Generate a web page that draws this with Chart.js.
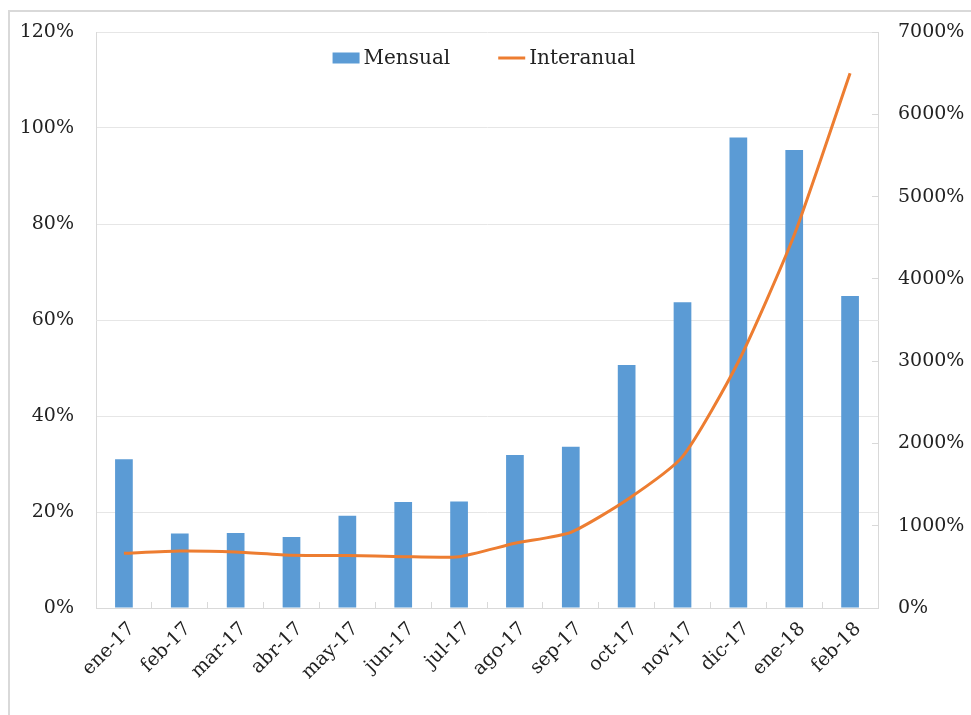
<!DOCTYPE html>
<html>
<head>
<meta charset="utf-8">
<script src="https://cdn.jsdelivr.net/npm/chart.js@4.4.1/dist/chart.umd.min.js"></script>
<style>
  html, body { margin: 0; padding: 0; background: #fff; overflow: hidden; }
  #wrap { position: relative; width: 971px; height: 715px; overflow: hidden; }
  #frame { position: absolute; left: 8px; top: 10px; width: 1000px; height: 800px; border-left: 2px solid #d9d9d9; border-top: 2px solid #d9d9d9; }
  canvas { position: absolute; left: 0; top: 0; }
</style>
</head>
<body>
<div id="wrap">
  <div id="frame"></div>
  <canvas id="chart" width="971" height="715"></canvas>
</div>
<script>
const MONTHS = ['ene-17', 'feb-17', 'mar-17', 'abr-17', 'may-17', 'jun-17', 'jul-17',
	'ago-17', 'sep-17', 'oct-17', 'nov-17', 'dic-17', 'ene-18', 'feb-18'];
// Mensual (%), eje izquierdo
const MENSUAL = [31.0, 15.5, 15.6, 14.8, 19.2, 22.1, 22.2, 31.9, 33.6, 50.6, 63.7, 98.0, 95.4, 65.0];
// Interanual (%), eje derecho
const INTERANUAL = [665, 693, 680, 640, 638, 624, 624, 786, 920, 1312, 1839, 2993, 4533, 6500];

const FONT = '"DejaVu Serif", "Liberation Serif", serif';
const TEXT = '#222222';
const AXIS = '#d9d9d9';

// leyenda dentro del área del gráfico
const inlineLegend = {
	id: 'inlineLegend',
	afterDatasetsDraw(chart) {
		const {ctx, chartArea} = chart;
		const swatch = 27, gap = 4, spacing = 48;
		ctx.save();
		ctx.font = `20px ${FONT}`;
		ctx.textBaseline = 'middle';
		const items = chart.data.datasets.map(ds => ({
			label: ds.label,
			line: ds.type === 'line',
			color: ds.type === 'line' ? ds.borderColor : ds.backgroundColor
		}));
		const widths = items.map(it => swatch + gap + ctx.measureText(it.label).width);
		const total = widths.reduce((a, b) => a + b, 0) + spacing * (items.length - 1);
		let x = (chartArea.left + chartArea.right) / 2 - total / 2 - 3;
		const y = chartArea.top + 26;
		items.forEach((it, i) => {
			if (it.line) {
				ctx.strokeStyle = it.color;
				ctx.lineWidth = 3;
				ctx.beginPath();
				ctx.moveTo(x, y);
				ctx.lineTo(x + swatch, y);
				ctx.stroke();
			} else {
				ctx.fillStyle = it.color;
				ctx.fillRect(x, y - 5.5, swatch, 11);
			}
			ctx.fillStyle = TEXT;
			ctx.fillText(it.label, x + swatch + gap, y + 1);
			x += widths[i] + spacing;
		});
		ctx.restore();
	}
};

// anchos fijos de los ejes verticales, sin relleno extra arriba/abajo
function fixVertical(width) {
	return scale => {
		scale.width = width;
		scale.paddingTop = 0;
		scale.paddingBottom = 0;
	};
}

new Chart(document.getElementById('chart').getContext('2d'), {
	data: {
		labels: MONTHS,
		datasets: [
			{
				type: 'bar',
				label: 'Mensual',
				data: MENSUAL,
				yAxisID: 'y',
				backgroundColor: '#5b9bd5',
				borderWidth: 0,
				barPercentage: 0.317,
				categoryPercentage: 1,
				order: 1
			},
			{
				type: 'line',
				label: 'Interanual',
				data: INTERANUAL,
				yAxisID: 'y1',
				borderColor: '#ed7d31',
				backgroundColor: '#ed7d31',
				borderWidth: 3,
				pointRadius: 0,
				tension: 0.2,
				fill: false,
				order: 0
			}
		]
	},
	options: {
		responsive: false,
		devicePixelRatio: 1,
		animation: false,
		layout: {padding: {top: 32, left: 0, right: 0, bottom: 0}},
		plugins: {
			legend: {display: false},
			tooltip: {enabled: false}
		},
		scales: {
			x: {
				offset: true,
				grid: {offset: true, drawOnChartArea: false, drawTicks: true, tickLength: -6, color: AXIS},
				border: {color: AXIS},
				ticks: {
					autoSkip: false,
					minRotation: 45,
					maxRotation: 45,
					padding: 16,
					labelOffset: 8,
					color: TEXT,
					font: {family: FONT, size: 19}
				},
				afterFit(scale) {
					scale.height = 107;
					scale.paddingLeft = 0;
					scale.paddingRight = 0;
				}
			},
			y: {
				position: 'left',
				min: 0,
				max: 120,
				ticks: {
					stepSize: 20,
					padding: 22,
					color: TEXT,
					font: {family: FONT, size: 19},
					callback: v => v + '%'
				},
				grid: {color: '#e6e6e6', drawTicks: false},
				border: {color: AXIS},
				afterFit: fixVertical(96)
			},
			y1: {
				position: 'right',
				min: 0,
				max: 7000,
				ticks: {
					stepSize: 1000,
					padding: 26,
					color: TEXT,
					font: {family: FONT, size: 19},
					callback: v => v + '%'
				},
				grid: {drawOnChartArea: false, tickLength: -6, color: AXIS},
				border: {color: AXIS},
				afterFit: fixVertical(93)
			}
		}
	},
	plugins: [inlineLegend]
});
</script>
</body>
</html>
